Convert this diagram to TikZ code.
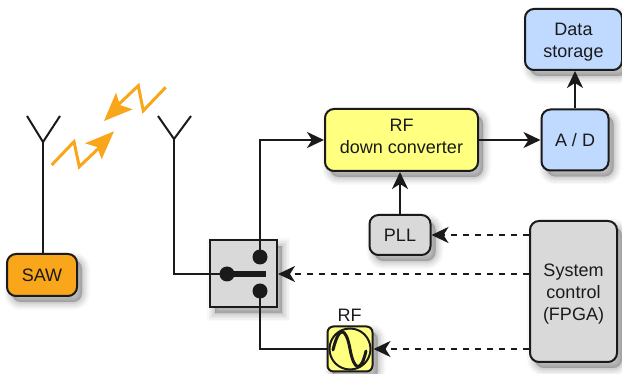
\documentclass[tikz,border=0pt]{standalone}
\usepackage{fontspec}
\setmainfont{Liberation Sans}
\usetikzlibrary{arrows.meta,calc}
\definecolor{cyel}{HTML}{FFFF80}
\definecolor{cblu}{HTML}{BFD9FF}
\definecolor{corg}{HTML}{F9A61A}
\definecolor{cgry}{HTML}{D9D9D9}
\definecolor{cink}{HTML}{1A1A1A}
\tikzset{
  shadowlayer/.style={preaction={draw=black,fill=black,draw opacity=#1,fill opacity=#1,line join=round,transform canvas={shift={(5pt,-6pt)}}}},
  softshadow/.style={
    preaction={draw=black,fill=black,draw opacity=.025,fill opacity=.025,line width=16pt,transform canvas={shift={(5pt,-6pt)}}},
    preaction={draw=black,fill=black,draw opacity=.03,fill opacity=.03,line width=13pt,transform canvas={shift={(5pt,-6pt)}}},
    preaction={draw=black,fill=black,draw opacity=.035,fill opacity=.035,line width=10pt,transform canvas={shift={(5pt,-6pt)}}},
    preaction={draw=black,fill=black,draw opacity=.04,fill opacity=.04,line width=7pt,transform canvas={shift={(5pt,-6pt)}}},
    preaction={draw=black,fill=black,draw opacity=.05,fill opacity=.05,line width=4pt,transform canvas={shift={(5pt,-6pt)}}},
    preaction={draw=black,fill=black,draw opacity=.06,fill opacity=.06,line width=1pt,transform canvas={shift={(5pt,-6pt)}}}},
  blockbox/.style={softshadow,draw=cink,line width=2pt,rounded corners=9pt,inner sep=0pt,
    align=center,font=\fontsize{18}{22}\selectfont,text=cink},
  wire/.style={draw=cink,line width=2pt},
  arrowwire/.style={wire,-{Stealth[length=17pt,width=16pt,inset=5pt]}},
  ctrlwire/.style={arrowwire,dash pattern=on 6pt off 6pt},
  dotmark/.style={circle,fill=cink,draw=none,minimum size=15pt,inner sep=0pt},
  bolt/.style={draw=corg,line width=3pt,line join=miter},
  bolthead/.style={fill=corg,draw=none},
}
\begin{document}
\begin{tikzpicture}[x=1pt,y=-1pt]
\useasboundingbox (0,0) rectangle (622,374);
% nodes
\node[blockbox,fill=cblu,minimum width=97pt,minimum height=61pt] (store) at (573.5,39.5) {\rule{0pt}{17pt}Data\\storage};
\node[blockbox,fill=cblu,minimum width=67pt,minimum height=61pt] (ad) at (575,140) {A / D};
\node[blockbox,fill=cyel,minimum width=153pt,minimum height=62pt] (rf) at (401.5,140) {RF\\down converter\rule[-7pt]{0pt}{1pt}};
\node[blockbox,fill=cgry,minimum width=61pt,minimum height=40pt] (pll) at (400,235) {PLL};
\node[blockbox,fill=cgry,minimum width=87pt,minimum height=141pt] (sys) at (573.5,291.5) {\rule{0pt}{18pt}System\\control\\(FPGA)};
\node[blockbox,fill=corg,minimum width=70pt,minimum height=42pt] (saw) at (42,275) {SAW};
\node[blockbox,fill=cgry,rounded corners=0pt,minimum width=67pt,minimum height=67pt] (sw) at (243.5,274) {};
\node[blockbox,fill=cyel,rounded corners=6pt,minimum width=45pt,minimum height=45pt] (osc) at (350,349) {};
\node[circle,draw=cink,line width=2pt,minimum size=41pt,inner sep=0pt] (oscc) at (350,349) {};
\node[font=\fontsize{18}{22}\selectfont,text=cink,inner sep=0pt] (rflabel) at (349.5,315) {RF};
% sine
\draw[cink,line width=3pt,line cap=round]
  ($(oscc)+(-17,1)$) .. controls ($(oscc)+(-11,-24)$) and ($(oscc)+(-4,-22)$) .. (oscc.center)
  .. controls ($(oscc)+(4,22)$) and ($(oscc)+(11,24)$) .. ($(oscc)+(16,2)$);
% switch
\node[dotmark] (pole) at (227,274) {};
\node[dotmark] (c1) at (260,257) {};
\node[dotmark] (c2) at (260,291) {};
\coordinate (armend) at (266,274);
\draw[cink,line width=6pt] (pole.center) -- (armend);
% antennas
\coordinate (a1top) at (43,142);
\coordinate (a1l) at (27,116);
\coordinate (a1r) at (60,116);
\coordinate (a2top) at (174,139);
\coordinate (a2l) at (158,116);
\coordinate (a2r) at (191,116);
\draw[wire] (a1l) -- (a1top) -- (a1r);
\draw[wire] (a1top) -- (saw.north -| a1top);
\draw[wire] (a2l) -- (a2top) -- (a2r);
\draw[wire] (a2top) |- (pole.center);
% connectors
\draw[arrowwire] (c1.center) |- (rf.west);
\draw[wire] (c2.center) |- (osc.west);
\draw[arrowwire] (rf.east) -- (ad.west);
\draw[arrowwire] (ad.north) -- (store.south -| ad.north);
\draw[arrowwire] (pll.north) -- (rf.south -| pll.north);
\draw[ctrlwire] (pll.east -| sys.west) -- (pll.east);
\draw[ctrlwire] (sw.east -| sys.west) -- (sw.east);
\draw[ctrlwire] (osc.east -| sys.west) -- (osc.east);
% lightning
\draw[bolt] (51.7,165) -- (74,141.7) -- (79.3,166.7) -- (100,147);
\fill[bolthead] (114,131.3) -- (85,143.3) -- (97,147) -- (101.7,159.3) -- cycle;
\draw[bolt] (165.7,87.3) -- (143.3,110.7) -- (138.3,85.7) -- (118,105);
\fill[bolthead] (104,121) -- (116,92.7) -- (120,105) -- (132.7,109.3) -- cycle;
\end{tikzpicture}
\end{document}
